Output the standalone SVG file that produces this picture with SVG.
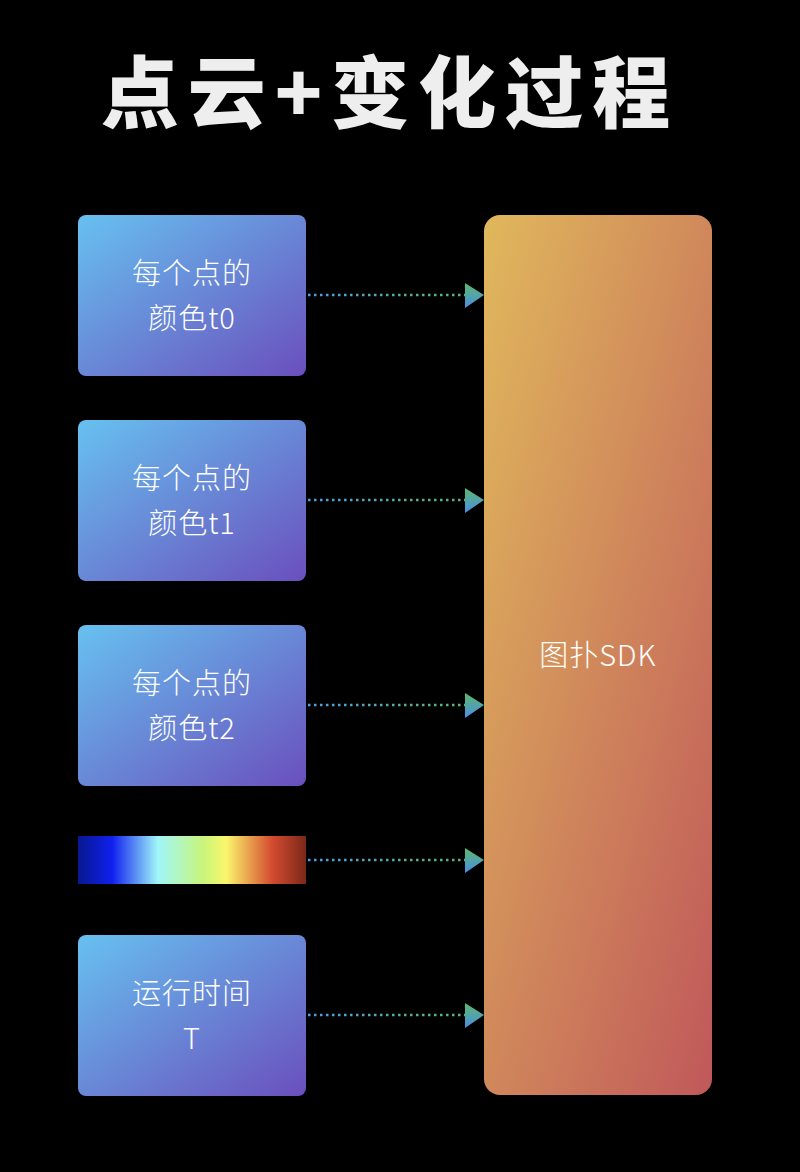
<svg xmlns="http://www.w3.org/2000/svg" width="800" height="1172" viewBox="0 0 800 1172">
<defs>
<linearGradient id="bx" x1="0" y1="0" x2="1" y2="1"><stop offset="0" stop-color="#67c1f0"/><stop offset="1" stop-color="#6a4fbd"/></linearGradient>
<linearGradient id="sdk" x1="0" y1="0" x2="1" y2="1"><stop offset="0" stop-color="#e0b85c"/><stop offset="1" stop-color="#c0585a"/></linearGradient>
<linearGradient id="cb" x1="0" y1="0" x2="1" y2="0"><stop offset="0" stop-color="#071890"/><stop offset="0.15" stop-color="#1020ee"/><stop offset="0.35" stop-color="#a0f6fa"/><stop offset="0.55" stop-color="#c8f57a"/><stop offset="0.65" stop-color="#fbf66c"/><stop offset="0.85" stop-color="#d44c30"/><stop offset="1" stop-color="#7a2818"/></linearGradient>
<linearGradient id="ln" gradientUnits="userSpaceOnUse" x1="308" y1="0" x2="466" y2="0"><stop offset="0" stop-color="#4a9ee8"/><stop offset="1" stop-color="#5cb86a"/></linearGradient>
<linearGradient id="ah" x1="0" y1="0" x2="0" y2="1"><stop offset="0" stop-color="#5cb86a"/><stop offset="1" stop-color="#4a8ee8"/></linearGradient>
</defs>
<style>
.t{font-family:"Noto Sans CJK SC","Liberation Sans",sans-serif;font-weight:300;fill:#fff;font-size:29px;text-anchor:middle;letter-spacing:1px}
.l{stroke:url(#ln);stroke-width:2.5;stroke-dasharray:2.5 3.5;fill:none}
</style>
<rect width="800" height="1172" fill="#000"/>
<text x="390" y="122" style="font-family:'Noto Sans CJK SC',sans-serif;font-weight:900;font-size:78px;fill:#eee;text-anchor:middle;letter-spacing:9px">点云+变化过程</text>
<g id="n0"><rect x="78" y="215" width="228" height="161" rx="8" fill="url(#bx)"/><text class="t" x="192" y="284">每个点的</text><text class="t" x="192" y="329">颜色t0</text></g>
<g id="n1"><rect x="78" y="420" width="228" height="161" rx="8" fill="url(#bx)"/><text class="t" x="192" y="489">每个点的</text><text class="t" x="192" y="534">颜色t1</text></g>
<g id="n2"><rect x="78" y="625" width="228" height="161" rx="8" fill="url(#bx)"/><text class="t" x="192" y="694">每个点的</text><text class="t" x="192" y="739">颜色t2</text></g>
<g id="bar"><rect x="78" y="836" width="228" height="48" fill="url(#cb)"/></g>
<g id="n3"><rect x="78" y="935" width="228" height="161" rx="8" fill="url(#bx)"/><text class="t" x="192" y="1004">运行时间</text><text class="t" x="192" y="1049">T</text></g>
<g id="sdk"><rect x="484" y="215" width="228" height="880" rx="16" fill="url(#sdk)"/><text class="t" x="598" y="666">图扑SDK</text></g>
<g id="connectors">
<line class="l" x1="308" y1="295" x2="466" y2="295"/><polygon points="465,283 484,295 465,308" fill="url(#ah)"/>
<line class="l" x1="308" y1="500" x2="466" y2="500"/><polygon points="465,488 484,500 465,513" fill="url(#ah)"/>
<line class="l" x1="308" y1="705" x2="466" y2="705"/><polygon points="465,693 484,705 465,718" fill="url(#ah)"/>
<line class="l" x1="308" y1="860" x2="466" y2="860"/><polygon points="465,848 484,860 465,873" fill="url(#ah)"/>
<line class="l" x1="308" y1="1015" x2="466" y2="1015"/><polygon points="465,1003 484,1015 465,1028" fill="url(#ah)"/>
</g>
</svg>
